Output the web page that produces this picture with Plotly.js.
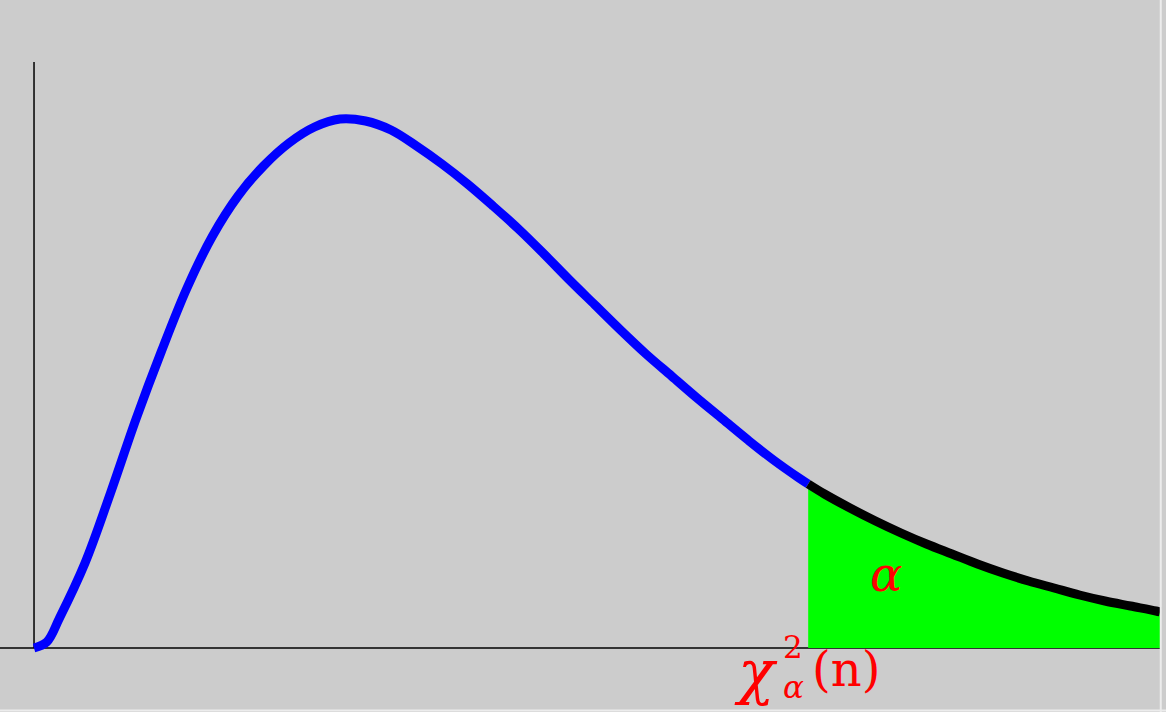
<!DOCTYPE html>
<html><head><meta charset="utf-8">
<script src="https://cdn.plot.ly/plotly-3.0.1.min.js"></script>
<style>html,body{margin:0;padding:0;background:#cccccc;}</style>
</head><body><div id="chart" style="width:1166px;height:712px;"></div>
<script>
// Values (x in chi-square units, y in density units)
const xBody = [0,0.25,0.5,1,1.5,2,2.5,3,3.5,4,4.5,5,5.5,6,6.5,7,7.5,8,8.5,9,9.5,10,10.5,11,11.5,12,12.5,13,13.5,14,14.5,15,15.18];
const yBody = [0,0.06,0.30,0.85,1.55,2.29,2.97,3.60,4.12,4.52,4.82,5.05,5.21,5.29,5.27,5.18,5.02,4.84,4.64,4.42,4.19,3.94,3.68,3.43,3.18,2.94,2.72,2.50,2.29,2.08,1.88,1.70,1.64];
const xTail = [15.18,15.5,16,16.5,17,17.5,18,18.5,19,19.5,20,20.5,21,21.5,22,22.08];
const yTail = [1.64,1.54,1.40,1.27,1.15,1.04,0.94,0.84,0.75,0.67,0.60,0.53,0.47,0.42,0.37,0.36];
const critical = 15.18;
const xEnd = 22.08;
const yAxisTop = 5.86;

const traces = [
  {x:xTail, y:yTail, type:'scatter', mode:'lines', fill:'tozeroy',
   fillcolor:'#00ff00', line:{width:0, color:'#00ff00', shape:'spline', smoothing:1}, hoverinfo:'skip'},
  {x:xBody, y:yBody, type:'scatter', mode:'lines', line:{color:'#0000ff', width:9, shape:'spline', smoothing:1}},
  {x:xTail, y:yTail, type:'scatter', mode:'lines', line:{color:'#000000', width:9, shape:'spline', smoothing:1}}
];
const serif = 'DejaVu Serif, serif';
const red = '#ff0000';
const layout = {
  width:1166, height:712, margin:{l:0,r:0,t:0,b:0},
  paper_bgcolor:'#cccccc', plot_bgcolor:'#cccccc', showlegend:false,
  xaxis:{range:[-0.667,22.196], showgrid:false, zeroline:false, showticklabels:false, ticks:'', showline:false},
  yaxis:{range:[-0.64,6.48], showgrid:false, zeroline:false, showticklabels:false, ticks:'', showline:false},
  shapes:[
    {type:'line', xref:'x', yref:'y', x0:-0.667, x1:xEnd, y0:0, y1:0, line:{color:'#000', width:1.5}, layer:'below'},
    {type:'line', xref:'x', yref:'y', x0:0, x1:0, y0:0, y1:yAxisTop, line:{color:'#000', width:1.5}, layer:'below'},
    {type:'line', xref:'paper', yref:'paper', x0:0.9955, x1:0.9955, y0:0, y1:1, line:{color:'#ececec', width:2}},
    {type:'line', xref:'paper', yref:'paper', x0:0, x1:1, y0:0.002, y1:0.002, line:{color:'#ececec', width:2}}
  ],
  annotations:[
    {x:16.71, y:0.74, xref:'x', yref:'y', text:'<i>α</i>', showarrow:false, font:{family:serif, size:48, color:red}},
    {x:14.62, y:-0.24, xref:'x', yref:'y', xanchor:'right', text:'<i>χ</i>', showarrow:false, font:{family:serif, size:60, color:red}},
    {x:14.64, y:-0.19, xref:'x', yref:'y', xanchor:'left', align:'left', text:'2<br><i>α</i>', showarrow:false, font:{family:serif, size:31, color:red}},
    {x:15.22, y:-0.21, xref:'x', yref:'y', xanchor:'left', text:'(n)', showarrow:false, font:{family:serif, size:48, color:red}}
  ]
};
Plotly.newPlot('chart', traces, layout, {staticPlot:true, displayModeBar:false});
</script></body></html>
